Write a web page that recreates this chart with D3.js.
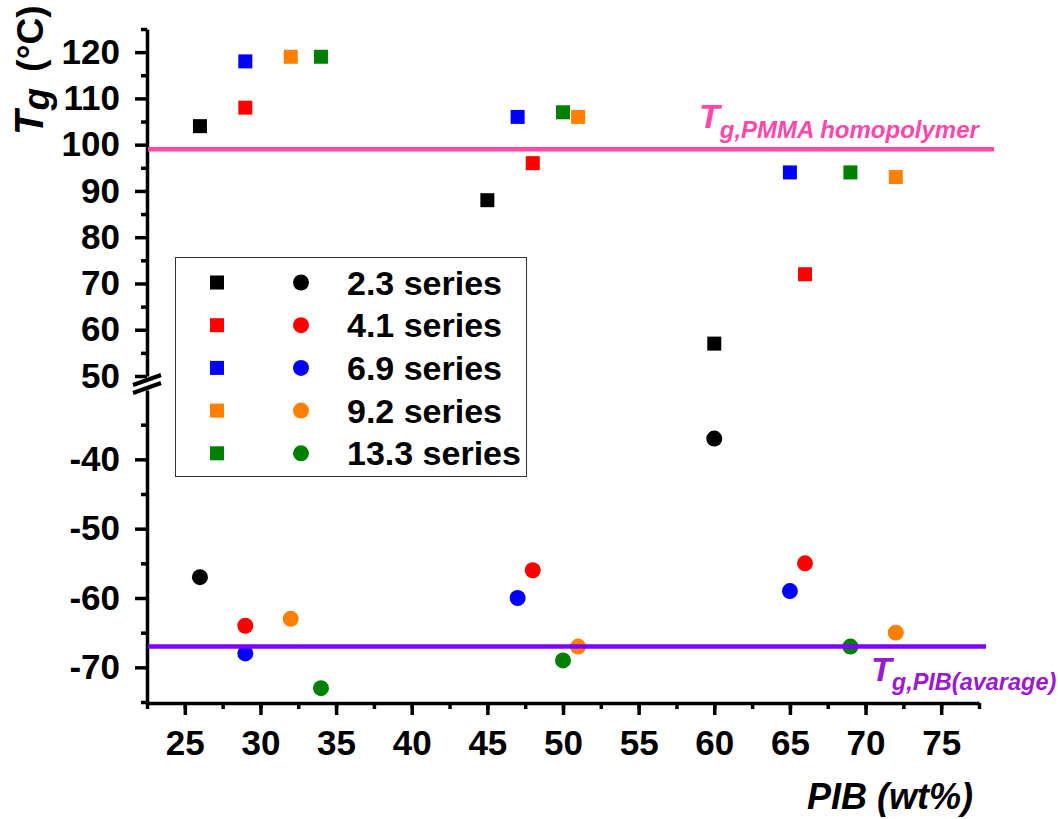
<!DOCTYPE html>
<html>
<head>
<meta charset="utf-8">
<script src="https://cdn.jsdelivr.net/npm/d3@7"></script>
<style>
  body { margin: 0; background: #fff; }
  svg { display: block; font-family: "Liberation Sans", Arial, sans-serif; font-weight: bold; }
</style>
</head>
<body>
<div id="chart"></div>
<script>
// series data
const seriesNames = ["2.3 series", "4.1 series", "6.9 series", "9.2 series", "13.3 series"];
const pibWt = [[26, 45, 60], [29, 48, 66], [29, 47, 65], [32, 51, 72], [34, 50, 69]];
const tgPMMA = [[104, 88, 57], [108, 96, 72], [118, 106, 94], [119, 106, 93], [119, 107, 94]];
const tgPIB = [[-57, null, -37], [-64, -56, -55], [-68, -60, -59], [-63, -67, -65], [-73, -69, -67]];
const tgPMMAhomo = 99;
const tgPIBavg = -67;

// ticks
const xTicks = [25, 30, 35, 40, 45, 50, 55, 60, 65, 70, 75];
const upTicks = [50, 60, 70, 80, 90, 100, 110, 120];
const loTicks = [-70, -60, -50, -40];

const colors = ["#000000", "#ff0000", "#0000ff", "#ff8000", "#008000"];
const width = 1058, height = 819;

const svg = d3.select("#chart").append("svg")
  .attr("width", width)
  .attr("height", height)
  .attr("viewBox", [0, 0, width, height]);

svg.append("rect").attr("width", width).attr("height", height).attr("fill", "#fff");

// scales
const x = d3.scaleLinear().domain([22.5, 77.5]).range([147, 979]);
const yUp = d3.scaleLinear().domain([50, 125]).range([376, 29]);
const yLo = d3.scaleLinear().domain([-75, -30]).range([702, 390]);

const plain = d => String(d); // keep hyphen minus like the original

function styleAxis(g, size) {
  g.selectAll("path.domain").attr("stroke", "#000").attr("stroke-width", 3.5);
  g.selectAll(".tick line").attr("stroke", "#000").attr("stroke-width", 3.5);
  g.selectAll(".tick text").attr("fill", "#000").attr("font-size", size + "px")
    .attr("font-family", "'Liberation Sans', Arial, sans-serif").attr("font-weight", "bold");
}

// x axis
const xAxisG = svg.append("g").attr("transform", "translate(0,703)");
xAxisG.append("g")
  .call(d3.axisBottom(x).tickValues(d3.range(22.5, 78, 2.5)).tickSize(6).tickSizeOuter(0).tickFormat(""))
  .call(g => styleAxis(g, 35));
xAxisG.append("g")
  .call(d3.axisBottom(x).tickValues(xTicks).tickSize(12).tickSizeOuter(0).tickPadding(15).tickFormat(plain))
  .call(g => { styleAxis(g, 35); g.select("path.domain").remove(); });

// y axis upper part
const yUpG = svg.append("g").attr("transform", "translate(147,0)");
yUpG.append("g")
  .call(d3.axisLeft(yUp).tickValues(d3.range(55, 126, 10)).tickSize(6).tickSizeOuter(0).tickFormat(""))
  .call(g => styleAxis(g, 35));
yUpG.append("g")
  .call(d3.axisLeft(yUp).tickValues(upTicks).tickSize(12).tickSizeOuter(0).tickPadding(15).tickFormat(plain))
  .call(g => { styleAxis(g, 35); g.select("path.domain").remove(); });

// y axis lower part
const yLoG = svg.append("g").attr("transform", "translate(147,0)");
yLoG.append("g")
  .call(d3.axisLeft(yLo).tickValues(d3.range(-75, -34, 10)).tickSize(6).tickSizeOuter(0).tickFormat(""))
  .call(g => styleAxis(g, 35));
yLoG.append("g")
  .call(d3.axisLeft(yLo).tickValues(loTicks).tickSize(12).tickSizeOuter(0).tickPadding(15).tickFormat(plain))
  .call(g => { styleAxis(g, 35); g.select("path.domain").remove(); });

// axis break marks
[yUp(50) + 4, yLo(-30) - 2].forEach(cy => {
  svg.append("line")
    .attr("x1", 133).attr("y1", cy + 5)
    .attr("x2", 161).attr("y2", cy - 5)
    .attr("stroke", "#000").attr("stroke-width", 4);
});

// points: squares (PMMA Tg) and circles (PIB Tg)
seriesNames.forEach((name, i) => {
  const sq = pibWt[i].map((p, j) => ({ p: p, t: tgPMMA[i][j] })).filter(d => d.t != null);
  const ci = pibWt[i].map((p, j) => ({ p: p, t: tgPIB[i][j] })).filter(d => d.t != null);

  svg.append("g").selectAll("rect")
    .data(sq)
    .enter()
      .append("rect")
      .attr("x", d => x(d.p) - 7)
      .attr("y", d => yUp(d.t) - 7)
      .attr("width", 14)
      .attr("height", 14)
      .attr("fill", colors[i]);

  svg.append("g").selectAll("circle")
    .data(ci)
    .enter()
      .append("circle")
      .attr("cx", d => x(d.p))
      .attr("cy", d => yLo(d.t))
      .attr("r", 8)
      .attr("fill", colors[i]);
});

// reference lines
svg.append("line")
  .attr("x1", 148).attr("x2", 994)
  .attr("y1", yUp(tgPMMAhomo)).attr("y2", yUp(tgPMMAhomo))
  .attr("stroke", "#ff48a8").attr("stroke-width", 4.5);

svg.append("line")
  .attr("x1", 148).attr("x2", 986)
  .attr("y1", yLo(tgPIBavg)).attr("y2", yLo(tgPIBavg))
  .attr("stroke", "#8000ff").attr("stroke-width", 4.5);

// reference labels
const pmmaLab = svg.append("text")
  .attr("x", 699).attr("y", 128)
  .attr("fill", "#ff48a8").attr("font-style", "italic");
pmmaLab.append("tspan").attr("font-size", "34px").text("T");
pmmaLab.append("tspan").attr("font-size", "24px").attr("dy", 10).text("g,PMMA homopolymer");

const pibLab = svg.append("text")
  .attr("x", 871).attr("y", 681)
  .attr("fill", "#9a1ad0").attr("font-style", "italic");
pibLab.append("tspan").attr("font-size", "34px").text("T");
pibLab.append("tspan").attr("font-size", "23.5px").attr("dy", 9).text("g,PIB(avarage)");

// axis titles
svg.append("text")
  .attr("x", 973).attr("y", 809)
  .attr("text-anchor", "end")
  .attr("font-size", "36px")
  .attr("font-style", "italic")
  .text("PIB (wt%)");

const yTitle = svg.append("text")
  .attr("transform", "translate(43,135) rotate(-90)")
  .attr("font-size", "37px");
yTitle.append("tspan").attr("font-style", "italic").attr("font-size", "40px").text("T");
yTitle.append("tspan").attr("font-style", "italic").attr("dy", 6).text("g");
yTitle.append("tspan").attr("dy", -6).attr("dx", 6).text(" (°C)");

// legend
const legend = svg.append("g");
legend.append("rect")
  .attr("x", 175.5).attr("y", 257.5)
  .attr("width", 351).attr("height", 219)
  .attr("fill", "#fff").attr("stroke", "#333").attr("stroke-width", 1);

seriesNames.forEach((name, i) => {
  const cy = 282.5 + i * 42.7;
  legend.append("rect")
    .attr("x", 210).attr("y", cy - 7)
    .attr("width", 14).attr("height", 14)
    .attr("fill", colors[i]);
  legend.append("circle")
    .attr("cx", 301).attr("cy", cy).attr("r", 8)
    .attr("fill", colors[i]);
  legend.append("text")
    .attr("x", 347).attr("y", cy + 12)
    .attr("font-size", "34px")
    .text(name);
});
</script>
</body>
</html>
